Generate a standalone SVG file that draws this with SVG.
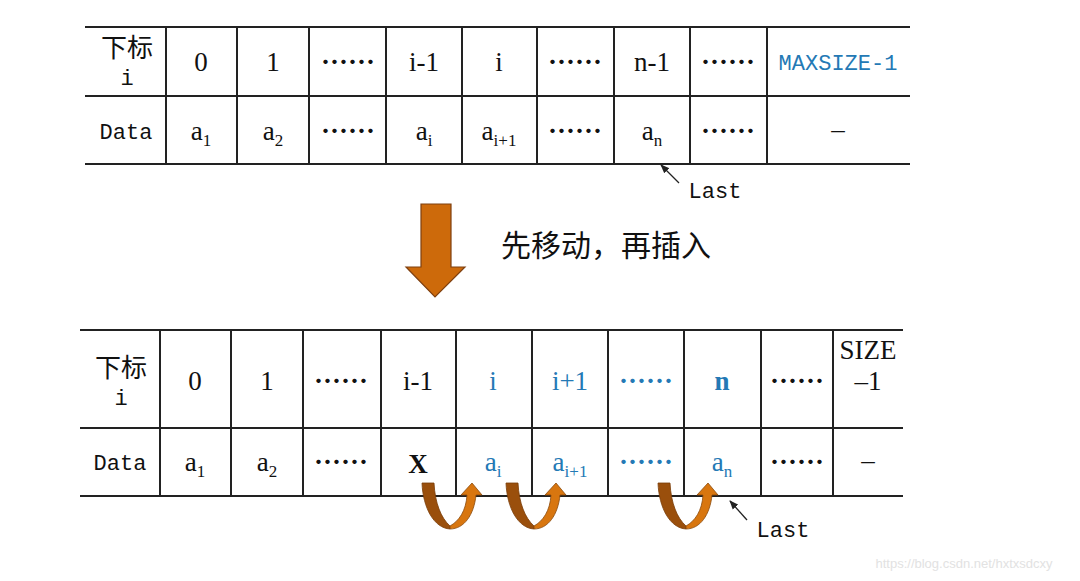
<svg xmlns="http://www.w3.org/2000/svg" width="1080" height="581" viewBox="0 0 1080 581">
<style>
.ln{stroke:#222;stroke-width:2;fill:none}
.t{font-family:"Liberation Serif","Noto Sans CJK SC",serif;font-size:27px;fill:#111;text-anchor:middle}
.m{font-family:"Liberation Mono","Noto Sans CJK SC",monospace;font-size:22px;fill:#111;text-anchor:middle}
.cjk{font-family:"Noto Sans CJK SC",sans-serif;font-size:26px;fill:#111;text-anchor:middle}
.dots{font-family:"Noto Sans CJK SC",sans-serif;font-size:27px;fill:#111;text-anchor:middle;font-weight:bold}
.sub{font-size:17px}
.blue{fill:#2479b5}
.thin{stroke:#222;stroke-width:1.3;fill:none}
.dark{fill:#9a4f0c;stroke:#7a3c08;stroke-width:0.8}
.orng{fill:#d8760f;stroke:#8a4a0c;stroke-width:0.8}
</style>
<defs>
<marker id="ah" viewBox="0 0 10 10" refX="9" refY="5" markerWidth="7" markerHeight="7" orient="auto">
<path d="M0,1 L10,5 L0,9 Z" fill="#222"/>
</marker>
<g id="curl">
<path class="dark" d="M0,0 L12,0 C13,20 19,35 28,43 L28,46 C12,45 1,25 0,0 Z"/>
<path class="orng" d="M28,46 C42,46 52,32 54,12 L60,12 L50,0 L39,12 L45,12 C44,28 37,38 28,43 Z"/>
</g>
</defs>
<rect width="1080" height="581" fill="#fff"/>

<g id="top-table">
<g class="ln">
<line x1="85" y1="27" x2="910" y2="27"/>
<line x1="85" y1="96" x2="910" y2="96"/>
<line x1="85" y1="164" x2="910" y2="164"/>
<line x1="166" y1="27" x2="166" y2="164"/>
<line x1="237" y1="27" x2="237" y2="164"/>
<line x1="309" y1="27" x2="309" y2="164"/>
<line x1="386" y1="27" x2="386" y2="164"/>
<line x1="462" y1="27" x2="462" y2="164"/>
<line x1="537" y1="27" x2="537" y2="164"/>
<line x1="614" y1="27" x2="614" y2="164"/>
<line x1="690" y1="27" x2="690" y2="164"/>
<line x1="767" y1="27" x2="767" y2="164"/>
</g>
<g id="top-col-head"><text class="cjk" x="127" y="57">下标</text><text class="m" x="127" y="85">i</text><text class="m" x="126" y="139">Data</text></g>
<g id="top-col-0"><text class="t" x="201" y="71">0</text><text class="t" x="201" y="140">a<tspan class="sub" dy="6">1</tspan></text></g>
<g id="top-col-1"><text class="t" x="273" y="71">1</text><text class="t" x="273" y="140">a<tspan class="sub" dy="6">2</tspan></text></g>
<g id="top-col-dots1"><text class="dots" x="348" y="72">……</text><text class="dots" x="348" y="141">……</text></g>
<g id="top-col-im1"><text class="t" x="424" y="71">i-1</text><text class="t" x="424" y="140">a<tspan class="sub" dy="6">i</tspan></text></g>
<g id="top-col-i"><text class="t" x="499" y="71">i</text><text class="t" x="499" y="140">a<tspan class="sub" dy="6">i+1</tspan></text></g>
<g id="top-col-dots2"><text class="dots" x="575" y="72">……</text><text class="dots" x="575" y="141">……</text></g>
<g id="top-col-nm1"><text class="t" x="652" y="71">n-1</text><text class="t" x="652" y="140">a<tspan class="sub" dy="6">n</tspan></text></g>
<g id="top-col-dots3"><text class="dots" x="728" y="72">……</text><text class="dots" x="728" y="141">……</text></g>
<g id="top-col-max"><text class="m blue" x="838" y="70">MAXSIZE-1</text><text class="t" x="838" y="138">–</text></g>
</g>

<g id="top-last"><text class="m" x="715" y="198">Last</text></g>

<g id="big-arrow">
<path d="M421,204 L451,204 L451,267 L465,267 L435,297 L406,267 L421,267 Z" fill="#cd6a0b" stroke="#7f4010" stroke-width="1.2"/>
</g>
<g id="caption"><text x="606" y="256" font-family="Noto Sans CJK SC,sans-serif" font-size="30" fill="#111" text-anchor="middle">先移动，再插入</text></g>

<g id="bottom-table">
<g class="ln">
<line x1="80" y1="330" x2="903" y2="330"/>
<line x1="80" y1="428" x2="903" y2="428"/>
<line x1="80" y1="496" x2="903" y2="496"/>
<line x1="160" y1="330" x2="160" y2="496"/>
<line x1="231" y1="330" x2="231" y2="496"/>
<line x1="303" y1="330" x2="303" y2="496"/>
<line x1="381" y1="330" x2="381" y2="496"/>
<line x1="456" y1="330" x2="456" y2="496"/>
<line x1="532" y1="330" x2="532" y2="496"/>
<line x1="608" y1="330" x2="608" y2="496"/>
<line x1="684" y1="330" x2="684" y2="496"/>
<line x1="761" y1="330" x2="761" y2="496"/>
<line x1="833" y1="330" x2="833" y2="496"/>
</g>
<g id="bot-col-head"><text class="cjk" x="121" y="377">下标</text><text class="m" x="121" y="405">i</text><text class="m" x="120" y="470">Data</text></g>
<g id="bot-col-0"><text class="t" x="195" y="390">0</text><text class="t" x="195" y="471">a<tspan class="sub" dy="6">1</tspan></text></g>
<g id="bot-col-1"><text class="t" x="267" y="390">1</text><text class="t" x="267" y="471">a<tspan class="sub" dy="6">2</tspan></text></g>
<g id="bot-col-dots1"><text class="dots" x="341" y="391">……</text><text class="dots" x="341" y="472">……</text></g>
<g id="bot-col-im1"><text class="t" x="418" y="390">i-1</text><text class="t" x="418" y="473" font-weight="bold" font-size="27">X</text></g>
<g id="bot-col-i"><text class="t blue" x="493" y="390">i</text><text class="t blue" x="493" y="471">a<tspan class="sub" dy="6">i</tspan></text></g>
<g id="bot-col-ip1"><text class="t blue" x="570" y="390">i+1</text><text class="t blue" x="570" y="471">a<tspan class="sub" dy="6">i+1</tspan></text></g>
<g id="bot-col-dots2"><text class="dots blue" x="646" y="391">……</text><text class="dots blue" x="646" y="472">……</text></g>
<g id="bot-col-n"><text class="t blue" x="722" y="390" font-weight="bold">n</text><text class="t blue" x="722" y="471">a<tspan class="sub" dy="6">n</tspan></text></g>
<g id="bot-col-dots3"><text class="dots" x="797" y="391">……</text><text class="dots" x="797" y="472">……</text></g>
<g id="bot-col-size"><text class="t" x="868" y="359" font-size="25">SIZE</text><text class="t" x="868" y="390">–1</text><text class="t" x="868" y="469">–</text></g>
</g>

<g id="bottom-last"><text class="m" x="783" y="537">Last</text></g>

<g id="connectors">
<line class="thin" x1="679" y1="183" x2="661" y2="165" marker-end="url(#ah)"/>
<line class="thin" x1="747" y1="520" x2="730" y2="501" marker-end="url(#ah)"/>
<use href="#curl" transform="translate(422,483)"/>
<use href="#curl" transform="translate(506,483)"/>
<use href="#curl" transform="translate(658,483)"/>
</g>

<text x="964" y="568" font-family="Liberation Sans,sans-serif" font-size="13" fill="#e2e2e2" text-anchor="middle">https://blog.csdn.net/hxtxsdcxy</text>
</svg>
